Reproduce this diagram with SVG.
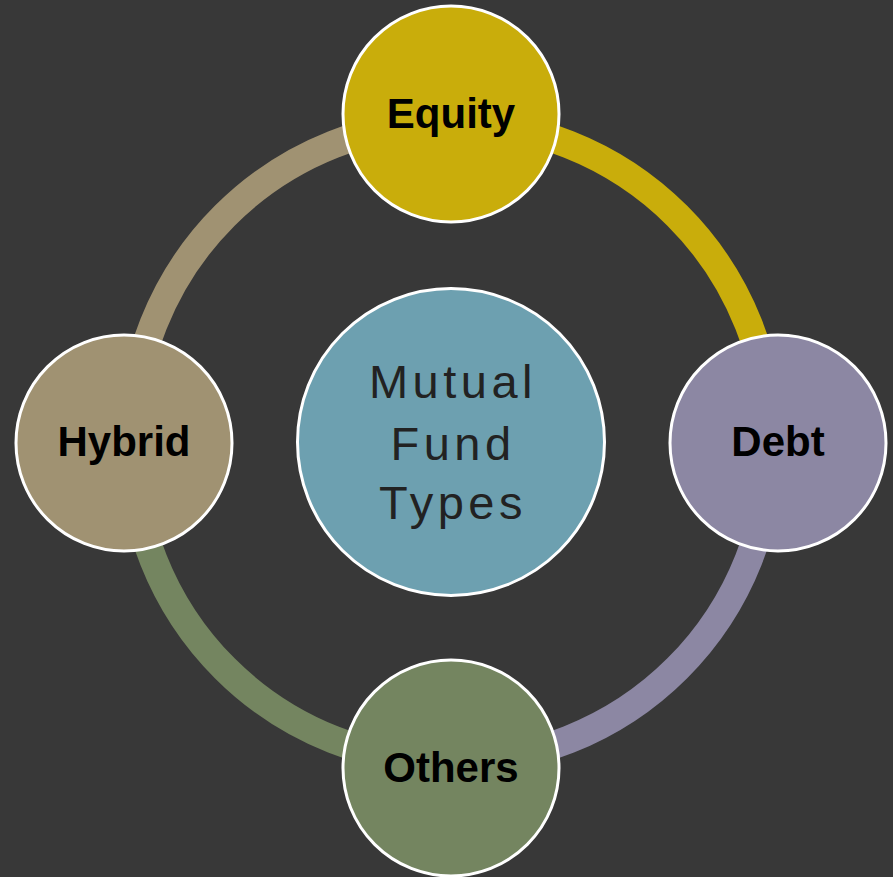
<svg xmlns="http://www.w3.org/2000/svg" width="893" height="877" viewBox="0 0 893 877">
<style>
.node{stroke:#ffffff;stroke-width:3}
.lbl{font-family:"Liberation Sans",Arial,sans-serif;font-weight:bold;font-size:42px;fill:#000;text-anchor:middle}
.ctr{font-family:"Liberation Sans",Arial,sans-serif;font-size:47px;fill:#222;text-anchor:middle;letter-spacing:4.5px}
.arc{fill:none;stroke-width:28}
</style>
<rect width="893" height="877" fill="#383838"/>
<g id="connectors">
<path class="arc" stroke="#c9ad0b" d="M451 122 A320 320 0 0 1 771 442"/>
<path class="arc" stroke="#8c87a3" d="M771 442 A320 320 0 0 1 451 762"/>
<path class="arc" stroke="#748560" d="M451 762 A320 320 0 0 1 131 442"/>
<path class="arc" stroke="#a09272" d="M131 442 A320 320 0 0 1 451 122"/>
</g>
<g id="center">
<circle class="node" cx="451" cy="442" r="153.5" fill="#6da0b0"/>
<text class="ctr" x="453" y="398">Mutual</text>
<text class="ctr" x="453" y="460">Fund</text>
<text class="ctr" x="453" y="519">Types</text>
</g>
<g id="equity">
<circle class="node" cx="451" cy="114" r="108" fill="#c9ad0b"/>
<text class="lbl" x="451" y="128">Equity</text>
</g>
<g id="debt">
<circle class="node" cx="778" cy="443" r="108" fill="#8c87a3"/>
<text class="lbl" x="778" y="456">Debt</text>
</g>
<g id="others">
<circle class="node" cx="451" cy="768" r="108" fill="#748560"/>
<text class="lbl" x="451" y="782">Others</text>
</g>
<g id="hybrid">
<circle class="node" cx="124" cy="443" r="108" fill="#a09272"/>
<text class="lbl" x="124" y="456">Hybrid</text>
</g>
</svg>
